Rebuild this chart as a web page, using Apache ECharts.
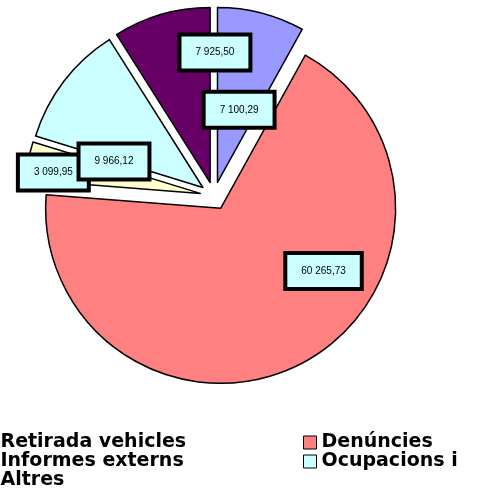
<!DOCTYPE html>
<html>
<head>
<meta charset="utf-8">
<script src="https://cdn.jsdelivr.net/npm/echarts@6/dist/echarts.min.js"></script>
<style>
  html, body { margin: 0; padding: 0; background: #fff; }
  #chart { width: 488px; height: 497px; }
</style>
</head>
<body>
<div id="chart"></div>
<script>
// categories and values
var categories = ['Retirada vehicles', 'Denúncies', 'Informes externs', 'Ocupacions i via pública', 'Altres'];
var values = [7100.29, 60265.73, 3099.95, 9966.12, 7925.50];
var sliceColors = ['#9999ff', '#ff8080', '#ffffcc', '#ccffff', '#660066'];
// label box nudges from the default inside spot
var labelShift = [[-1, 15], [60, -17], [-58, -4], [-17, 29], [30, -43]];

var leftLegend = ['Retirada vehicles', 'Informes externs', 'Altres'];
var rightLegend = ['Denúncies', 'Ocupacions i via pública'];

function fmt(v) {
    var parts = v.toFixed(2).split('.');
    return parts[0].replace(/\B(?=(\d{3})+(?!\d))/g, ' ') + ',' + parts[1];
}

var myChart = echarts.init(document.getElementById('chart'));

var pieData = [];
for (var i = 0; i < categories.length; i++) {
    pieData.push({
        name: categories[i],
        value: values[i],
        selected: true,
        itemStyle: { color: sliceColors[i] }
    });
}

var legendText = {
    fontFamily: 'DejaVu Sans',
    fontWeight: 'bold',
    fontSize: 19,
    lineHeight: 17,
    color: '#000'
};

var option = {
    animation: false,
    legend: [{
        data: leftLegend,
        orient: 'vertical',
        left: -18,
        top: 433,
        padding: 0,
        itemWidth: 13,
        itemHeight: 13,
        itemGap: 0,
        selectedMode: false,
        icon: 'rect',
        itemStyle: { borderColor: '#000', borderWidth: 1 },
        textStyle: legendText
    }, {
        data: rightLegend,
        orient: 'vertical',
        left: 303,
        top: 433,
        padding: 0,
        itemWidth: 13,
        itemHeight: 13,
        itemGap: 0,
        selectedMode: false,
        icon: 'rect',
        itemStyle: { borderColor: '#000', borderWidth: 1 },
        textStyle: Object.assign({}, legendText, {
            width: 150, overflow: 'truncate', ellipsis: ''
        })
    }],
    series: [{
        type: 'pie',
        center: [214, 196],
        radius: 175,
        startAngle: 90,
        clockwise: true,
        selectedMode: 'multiple',
        selectedOffset: 14,
        avoidLabelOverlap: false,
        itemStyle: { borderColor: '#000', borderWidth: 1.5 },
        emphasis: { disabled: true },
        label: {
            show: true,
            position: 'inside',
            formatter: function (p) { return fmt(p.value); },
            fontFamily: 'Liberation Sans',
            fontSize: 10,
            color: '#000',
            backgroundColor: '#ccffff',
            borderColor: '#000',
            borderWidth: 4,
            padding: [11, 14]
        },
        labelLine: { show: false },
        labelLayout: function (params) {
            var s = labelShift[params.dataIndex];
            return { dx: s[0], dy: s[1] };
        },
        data: pieData
    }]
};

myChart.setOption(option);
</script>
</body>
</html>
